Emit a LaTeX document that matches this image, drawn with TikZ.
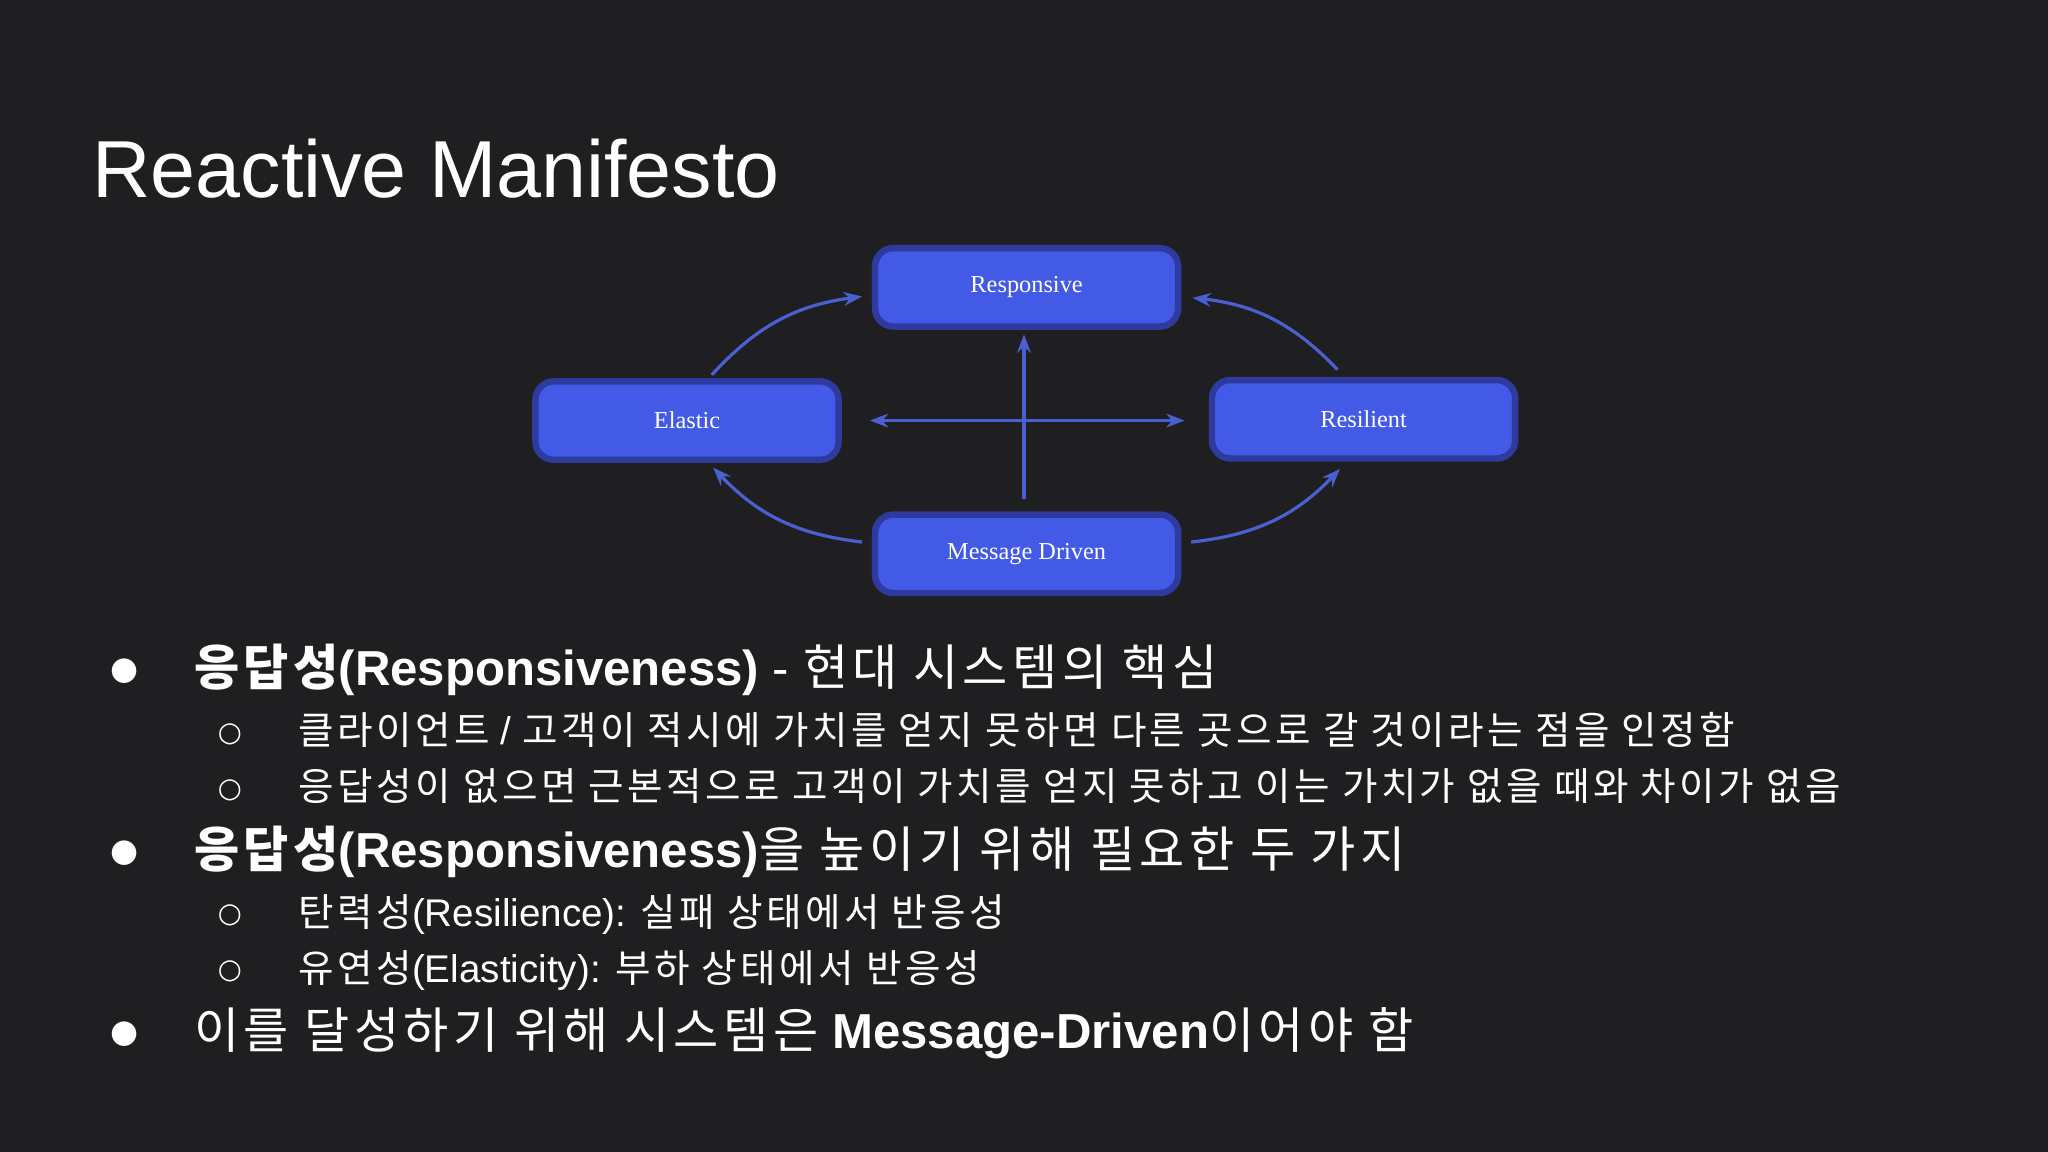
\documentclass[tikz,border=0pt]{standalone}
\usepackage{fontspec}
\setmainfont{Liberation Sans}
\newfontfamily\cjk[LetterSpace=9]{Noto Sans CJK KR}
\newfontfamily\djfont{DejaVu Sans}
\newfontfamily\tms{Liberation Serif}
\usetikzlibrary{arrows.meta}
\definecolor{bg}{HTML}{1F1F21}
\definecolor{boxfill}{HTML}{425AE6}
\definecolor{boxedge}{HTML}{2E3A9E}
\definecolor{arr}{HTML}{4A5FD0}
\newcommand{\kr}[1]{{\cjk #1}}
\begin{document}
\begin{tikzpicture}[x=0.01cm,y=-0.01cm,
  box/.style={draw=boxedge,line width=1.4pt,fill=boxfill,rounded corners=4pt,minimum width=2.32cm,minimum height=0.6cm,text=white,font=\tms\fontsize{5.3}{6}\selectfont},
  link/.style={arr,line width=0.7pt,-{Stealth[length=4pt,width=3pt]}},
  txt/.style={anchor=base west,inner sep=0,text=white},
  big/.style={txt,font=\fontsize{10.7}{12}\selectfont},
  small/.style={txt,font=\fontsize{8.4}{10}\selectfont},
  dot/.style={anchor=center,inner sep=0,text=white,font=\djfont\fontsize{7}{8}\selectfont},
  odot/.style={anchor=center,inner sep=0,text=white,font=\djfont\fontsize{6}{7}\selectfont}]
\fill[bg] (0,0) rectangle (1568,882);
\useasboundingbox (0,0) rectangle (1568,882);
\node[txt,font=\fontsize{17.6}{20}\selectfont] (title) at (70,151) {Reactive Manifesto};
% diagram
\node[box] (resp) at (786,220) {Responsive};
\node[box] (elas) at (526,322) {Elastic};
\node[box] (resi) at (1044,321) {Resilient};
\node[box] (msg) at (786,424) {Message Driven};
\coordinate (vb) at (784,382); \coordinate (vt) at (784,256);
\draw[link] (vb) -- (vt);
\coordinate (hl) at (666,322); \coordinate (hr) at (907,322);
\draw[arr,line width=0.7pt,{Stealth[length=4pt,width=3pt]}-{Stealth[length=4pt,width=3pt]}] (hl) -- (hr);
\coordinate (a1) at (545,287); \coordinate (a2) at (660,227);
\draw[link] (a1) to[bend left=20] (a2);
\coordinate (b1) at (1024,283); \coordinate (b2) at (913,228);
\draw[link] (b1) to[bend right=20] (b2);
\coordinate (c1) at (660,415); \coordinate (c2) at (546,358);
\draw[link] (c1) to[bend left=20] (c2);
\coordinate (d1) at (912,415); \coordinate (d2) at (1026,359);
\draw[link] (d1) to[bend right=20] (d2);
% bullets
\node[dot] (b1d) at (95,514) {●};
\node[big] (l1) at (148,525) {{\bfseries\kr{응답성}(Responsiveness)} - \kr{현대 시스템의 핵심}};
\node[odot] (b2d) at (176,562) {○};
\node[small] (l2) at (228,570) {\kr{클라이언트} / \kr{고객이 적시에 가치를 얻지 못하면 다른 곳으로 갈 것이라는 점을 인정함}};
\node[odot] (b3d) at (176,605) {○};
\node[small] (l3) at (228,613) {\kr{응답성이 없으면 근본적으로 고객이 가치를 얻지 못하고 이는 가치가 없을 때와 차이가 없음}};
\node[dot] (b4d) at (95,653) {●};
\node[big] (l4) at (148,664) {{\bfseries\kr{응답성}(Responsiveness)}\kr{을 높이기 위해 필요한 두 가지}};
\node[odot] (b5d) at (176,701) {○};
\node[small] (l5) at (228,709) {\kr{탄력성}(Resilience): \kr{실패 상태에서 반응성}};
\node[odot] (b6d) at (176,744) {○};
\node[small] (l6) at (228,752) {\kr{유연성}(Elasticity): \kr{부하 상태에서 반응성}};
\node[dot] (b7d) at (95,792) {●};
\node[big] (l7) at (148,803) {\kr{이를 달성하기 위해 시스템은} {\bfseries Message-Driven}\kr{이어야 함}};
\end{tikzpicture}
\end{document}
